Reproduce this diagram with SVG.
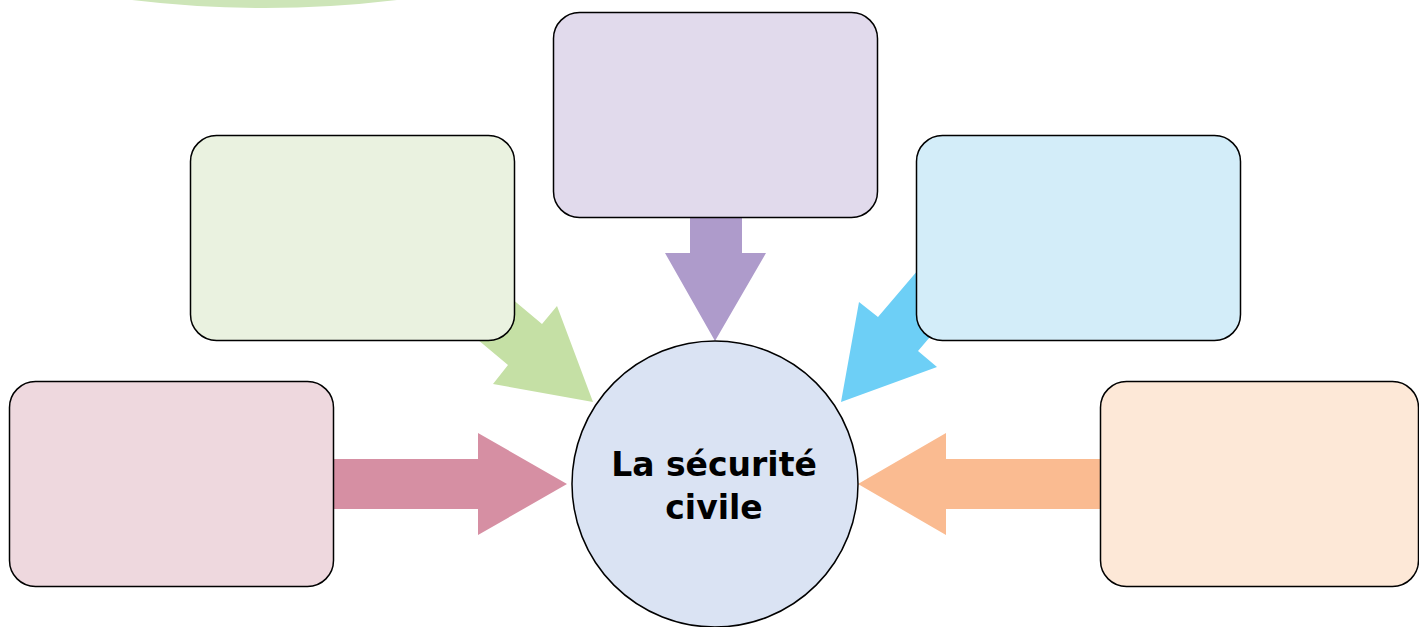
<svg xmlns="http://www.w3.org/2000/svg" width="1419" height="627" viewBox="0 0 1419 627">
<style>
.box{stroke:#000;stroke-width:1.5}
.lbl{font-family:"DejaVu Sans","Noto Sans",sans-serif;font-weight:bold;font-size:33px;fill:#000;text-anchor:middle}
</style>
<rect width="1419" height="627" fill="#fff"/>
<path d="M132,0 Q264,16 397,0 Z" fill="#CDE5B8"/>
<g id="connectors">
<polygon points="690,210 742,210 742,253 766,253 715,341 665,253 690,253" fill="#AE9BCB"/>
<polygon points="481,273 542,324 557,306 593,402 493,384 508,365 447,314" fill="#C5E0A5"/>
<polygon points="930,256 878,317 859,302 841,402 937,367 918,351 970,290" fill="#6DCFF6"/>
<polygon points="325,459 478,459 478,433 567,484 478,535 478,509 325,509" fill="#D68FA3"/>
<polygon points="1110,459 946,459 946,433 858,484 946,535 946,509 1110,509" fill="#FABB91"/>
</g>
<g id="node-top"><rect class="box" x="553.5" y="12.5" width="324" height="205" rx="26" fill="#E1DAEC"/></g>
<g id="node-green"><rect class="box" x="190.5" y="135.5" width="324" height="205" rx="26" fill="#EAF2E0"/></g>
<g id="node-blue"><rect class="box" x="916.5" y="135.5" width="324" height="205" rx="26" fill="#D3EDF9"/></g>
<g id="node-pink"><rect class="box" x="9.5" y="381.5" width="324" height="205" rx="26" fill="#EED8DE"/></g>
<g id="node-orange"><rect class="box" x="1100.5" y="381.5" width="318" height="205" rx="26" fill="#FDE8D7"/></g>
<g id="center">
<circle class="box" cx="715" cy="484" r="143" fill="#DAE3F3"/>
<text class="lbl" x="714" y="476">La sécurité</text>
<text class="lbl" x="714" y="519">civile</text>
</g>
</svg>
